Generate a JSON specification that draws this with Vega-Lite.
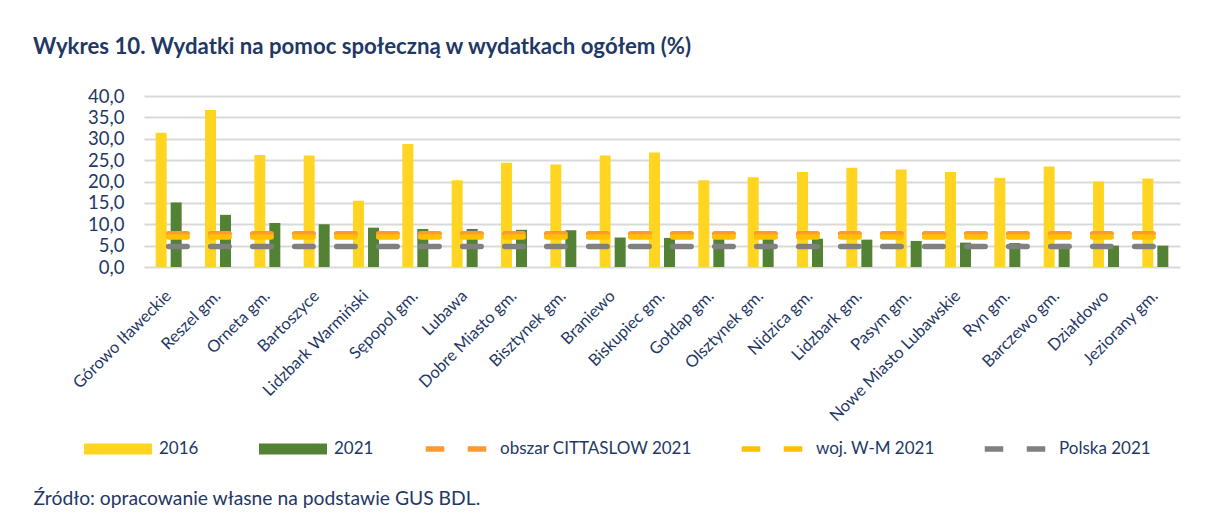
{
  "$schema": "https://vega.github.io/schema/vega-lite/v6.json",
  "width": 1036,
  "height": 171,
  "autosize": {"type": "none"},
  "padding": {"left": 144, "top": 96, "right": 27, "bottom": 251},
  "background": "white",
  "config": {
    "view": {"stroke": null},
    "font": "Lato",
    "axis": {"labelFont": "Lato", "titleFont": "Lato"},
    "axisY": {
      "labelOverlap": false,
      "labelFontSize": 18.5,
      "labelColor": "#1F3864",
      "labelPadding": 20,
      "domain": false,
      "ticks": false,
      "grid": true,
      "gridColor": "#D9D9D9",
      "gridWidth": 2
    },
    "legend": {"labelFont": "Lato"}
  },
  "title": {
    "text": "Wykres 10. Wydatki na pomoc społeczną w wydatkach ogółem (%)",
    "anchor": "start",
    "frame": "group",
    "dx": -111,
    "dy": -25,
    "font": "Lato",
    "fontSize": 22.2,
    "fontWeight": "bold",
    "color": "#1F3864"
  },
  "data": {
    "values": [
      {"name": "Górowo Iławeckie", "2016": 31.4, "2021": 15.1, "cittaslow": 7.8, "wm": 7.0, "pl": 4.8},
      {"name": "Reszel gm.", "2016": 36.7, "2021": 12.2, "cittaslow": 7.8, "wm": 7.0, "pl": 4.8},
      {"name": "Orneta gm.", "2016": 26.2, "2021": 10.3, "cittaslow": 7.8, "wm": 7.0, "pl": 4.8},
      {"name": "Bartoszyce", "2016": 26.1, "2021": 10.0, "cittaslow": 7.8, "wm": 7.0, "pl": 4.8},
      {"name": "Lidzbark Warmiński", "2016": 15.5, "2021": 9.2, "cittaslow": 7.8, "wm": 7.0, "pl": 4.8},
      {"name": "Sępopol gm.", "2016": 28.8, "2021": 8.9, "cittaslow": 7.8, "wm": 7.0, "pl": 4.8},
      {"name": "Lubawa", "2016": 20.3, "2021": 8.9, "cittaslow": 7.8, "wm": 7.0, "pl": 4.8},
      {"name": "Dobre Miasto gm.", "2016": 24.4, "2021": 8.7, "cittaslow": 7.8, "wm": 7.0, "pl": 4.8},
      {"name": "Bisztynek gm.", "2016": 24.0, "2021": 8.6, "cittaslow": 7.8, "wm": 7.0, "pl": 4.8},
      {"name": "Braniewo", "2016": 26.1, "2021": 6.9, "cittaslow": 7.8, "wm": 7.0, "pl": 4.8},
      {"name": "Biskupiec gm.", "2016": 26.8, "2021": 6.8, "cittaslow": 7.8, "wm": 7.0, "pl": 4.8},
      {"name": "Gołdap gm.", "2016": 20.3, "2021": 6.7, "cittaslow": 7.8, "wm": 7.0, "pl": 4.8},
      {"name": "Olsztynek gm.", "2016": 21.0, "2021": 6.6, "cittaslow": 7.8, "wm": 7.0, "pl": 4.8},
      {"name": "Nidzica gm.", "2016": 22.2, "2021": 6.6, "cittaslow": 7.8, "wm": 7.0, "pl": 4.8},
      {"name": "Lidzbark gm.", "2016": 23.2, "2021": 6.4, "cittaslow": 7.8, "wm": 7.0, "pl": 4.8},
      {"name": "Pasym gm.", "2016": 22.8, "2021": 6.1, "cittaslow": 7.8, "wm": 7.0, "pl": 4.8},
      {"name": "Nowe Miasto Lubawskie", "2016": 22.2, "2021": 5.7, "cittaslow": 7.8, "wm": 7.0, "pl": 4.8},
      {"name": "Ryn gm.", "2016": 20.9, "2021": 5.6, "cittaslow": 7.8, "wm": 7.0, "pl": 4.8},
      {"name": "Barczewo gm.", "2016": 23.5, "2021": 5.4, "cittaslow": 7.8, "wm": 7.0, "pl": 4.8},
      {"name": "Działdowo", "2016": 20.0, "2021": 5.0, "cittaslow": 7.8, "wm": 7.0, "pl": 4.8},
      {"name": "Jeziorany gm.", "2016": 20.7, "2021": 5.0, "cittaslow": 7.8, "wm": 7.0, "pl": 4.8}
    ]
  },
  "encoding": {
    "x": {
      "field": "name",
      "type": "nominal",
      "sort": null,
      "scale": {"paddingInner": 0.473, "paddingOuter": 0.2365},
      "axis": {
        "title": "Źródło: opracowanie własne na podstawie GUS BDL.",
        "titleX": -111,
        "titleY": 231,
        "titleAlign": "left",
        "titleAnchor": "start",
        "titleBaseline": "middle",
        "titleFontSize": 19.3,
        "titleFontWeight": "normal",
        "titleColor": "#1F3864",
        "labelAngle": -45,
        "labelAlign": "right",
        "labelBaseline": "middle",
        "labelPadding": 26,
        "labelFontSize": 16.5,
        "labelColor": "#1F3864",
        "labelLimit": 400,
        "domain": false,
        "ticks": false,
        "grid": false
      }
    },
    "y": {
      "type": "quantitative",
      "scale": {"domain": [0, 40], "nice": false},
      "axis": {
        "title": null,
        "values": [0, 5, 10, 15, 20, 25, 30, 35, 40],
        "labelExpr": "replace(format(datum.value, '.1f'), '.', ',')",
        "labelOverlap": false
      }
    }
  },
  "layer": [
    {
      "transform": [{"fold": ["2016", "2021"], "as": ["series", "value"]}],
      "mark": {"type": "bar"},
      "encoding": {
        "y": {"field": "value"},
        "xOffset": {"field": "series", "type": "nominal", "scale": {"paddingInner": 0.267}},
        "fill": {
          "field": "series",
          "type": "nominal",
          "scale": {"domain": ["2016", "2021"], "range": ["#FFD521", "#548235"]},
          "legend": {
            "title": null,
            "orient": "none",
            "direction": "horizontal",
            "legendX": -60,
            "legendY": 319,
            "symbolType": "M-1,-0.162H1V0.162H-1Z",
            "symbolSize": 4624,
            "symbolStrokeWidth": 0,
            "labelOffset": 7,
            "labelFontSize": 17,
            "labelColor": "#1F3864",
            "labelLimit": 400,
            "columnPadding": 60
          }
        }
      }
    },
    {
      "mark": {"type": "line", "strokeWidth": 5.5, "strokeCap": "round", "strokeDash": [18.5, 23.5]},
      "encoding": {
        "y": {"field": "cittaslow"},
        "stroke": {
          "datum": "obszar CITTASLOW 2021",
          "type": "nominal",
          "scale": {"domain": ["obszar CITTASLOW 2021", "woj. W-M 2021", "Polska 2021"], "range": ["#FF9933", "#FFC000", "#808080"]},
          "legend": {
            "title": null,
            "orient": "none",
            "direction": "horizontal",
            "legendX": 279,
            "legendY": 320,
            "symbolType": "stroke",
            "symbolSize": 3660,
            "symbolStrokeWidth": 5.5,
            "symbolDash": [18.5, 23.5],
            "labelOffset": 11,
            "labelFontSize": 17,
            "labelColor": "#1F3864",
            "labelLimit": 400,
            "columnPadding": 38
          }
        }
      }
    },
    {
      "mark": {"type": "line", "strokeWidth": 5.5, "strokeCap": "round", "strokeDash": [18.5, 23.5]},
      "encoding": {
        "y": {"field": "wm"},
        "stroke": {"datum": "woj. W-M 2021", "type": "nominal"}
      }
    },
    {
      "mark": {"type": "line", "strokeWidth": 5.5, "strokeCap": "round", "strokeDash": [18.5, 23.5]},
      "encoding": {
        "y": {"field": "pl"},
        "stroke": {"datum": "Polska 2021", "type": "nominal"}
      }
    }
  ]
}
